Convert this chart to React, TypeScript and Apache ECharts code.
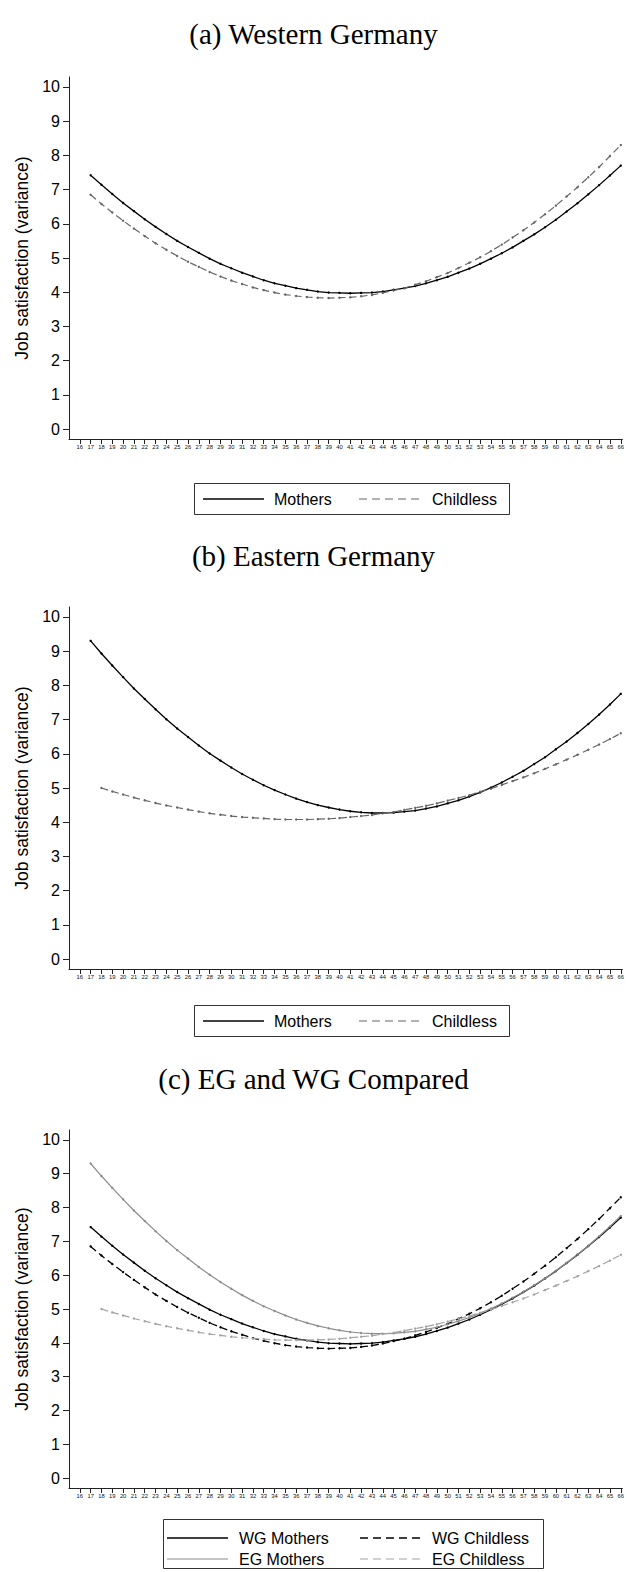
import { useEffect, useRef } from "react";
import * as echarts from "echarts";

// Ages shown on the x axis
const TICK_AGES = [
  16, 17, 18, 19, 20, 21, 22, 23, 24, 25, 26, 27, 28, 29, 30, 31, 32, 33, 34, 35,
  36, 37, 38, 39, 40, 41, 42, 43, 44, 45, 46, 47, 48, 49, 50, 51, 52, 53, 54, 55,
  56, 57, 58, 59, 60, 61, 62, 63, 64, 65, 66,
];
// Ages for which predictions are plotted
const AGES = [
  17, 18, 19, 20, 21, 22, 23, 24, 25, 26, 27, 28, 29, 30, 31, 32, 33, 34, 35, 36,
  37, 38, 39, 40, 41, 42, 43, 44, 45, 46, 47, 48, 49, 50, 51, 52, 53, 54, 55, 56,
  57, 58, 59, 60, 61, 62, 63, 64, 65, 66,
];
const EG_CHILDLESS_AGES = AGES.slice(1);
const Y_TICKS = [0, 1, 2, 3, 4, 5, 6, 7, 8, 9, 10];

// Predicted variance of job satisfaction by age
const WG_MOTHERS = [
  7.42, 7.14, 6.87, 6.61, 6.37, 6.13, 5.91, 5.7, 5.5, 5.32, 5.15, 4.98, 4.83, 4.7,
  4.57, 4.46, 4.35, 4.26, 4.19, 4.12, 4.07, 4.02, 3.99, 3.98, 3.97, 3.98, 3.99,
  4.02, 4.07, 4.12, 4.18, 4.26, 4.35, 4.45, 4.57, 4.69, 4.83, 4.98, 5.14, 5.31,
  5.5, 5.69, 5.9, 6.12, 6.36, 6.6, 6.86, 7.13, 7.41, 7.7,
];
const WG_CHILDLESS = [
  6.85, 6.58, 6.33, 6.09, 5.86, 5.64, 5.43, 5.24, 5.06, 4.89, 4.74, 4.59, 4.46,
  4.34, 4.24, 4.14, 4.06, 3.99, 3.93, 3.89, 3.86, 3.84, 3.83, 3.84, 3.85, 3.88,
  3.92, 3.98, 4.05, 4.12, 4.22, 4.32, 4.44, 4.56, 4.71, 4.86, 5.02, 5.2, 5.39, 5.6,
  5.81, 6.04, 6.28, 6.53, 6.8, 7.07, 7.36, 7.66, 7.98, 8.3,
];
const EG_MOTHERS = [
  9.3, 8.93, 8.58, 8.24, 7.91, 7.6, 7.3, 7.01, 6.74, 6.49, 6.24, 6.01, 5.8, 5.6,
  5.41, 5.24, 5.08, 4.94, 4.81, 4.69, 4.59, 4.5, 4.43, 4.37, 4.32, 4.29, 4.27, 4.27,
  4.28, 4.31, 4.34, 4.4, 4.46, 4.55, 4.64, 4.75, 4.87, 5.01, 5.16, 5.33, 5.5, 5.7,
  5.9, 6.13, 6.36, 6.61, 6.87, 7.15, 7.44, 7.75,
];
const EG_CHILDLESS = [
  5.0, 4.9, 4.81, 4.72, 4.64, 4.56, 4.49, 4.43, 4.37, 4.31, 4.26, 4.22, 4.18, 4.15,
  4.13, 4.11, 4.09, 4.08, 4.08, 4.08, 4.09, 4.1, 4.12, 4.15, 4.18, 4.21, 4.26, 4.3,
  4.36, 4.42, 4.48, 4.55, 4.63, 4.71, 4.79, 4.89, 4.98, 5.09, 5.2, 5.31, 5.43, 5.56,
  5.69, 5.83, 5.97, 6.12, 6.27, 6.43, 6.6,
];

const PANEL_TITLES = ["(a) Western Germany", "(b) Eastern Germany", "(c) EG and WG Compared"];
const Y_NAME = "Job satisfaction (variance)";

const SANS = "'Liberation Sans', Arial, sans-serif";
const SERIF = "'Liberation Serif', 'Times New Roman', serif";

// layout of the three stacked panels
const GRID_LEFT = 69;
const PANEL_LAYOUT = [
  { titleY: 34, gridTop: 77, gridHeight: 362, legendTop: 483 },
  { titleY: 556, gridTop: 607, gridHeight: 362, legendTop: 1005 },
  { titleY: 1079, gridTop: 1130, gridHeight: 358, legendTop: 1519 },
];

const pairs = (ages: number[], vals: number[]) => vals.map((v, i) => [ages[i], v]);

type LineDef = {
  name: string;
  ages: number[];
  values: number[];
  color: string;
  dashed: boolean;
  width: number;
};

const PANEL_LINES: LineDef[][] = [
  [
    { name: "Mothers", ages: AGES, values: WG_MOTHERS, color: "#000000", dashed: false, width: 1.3 },
    { name: "Childless", ages: AGES, values: WG_CHILDLESS, color: "#666666", dashed: true, width: 1.2 },
  ],
  [
    { name: "Mothers", ages: AGES, values: EG_MOTHERS, color: "#000000", dashed: false, width: 1.3 },
    { name: "Childless", ages: EG_CHILDLESS_AGES, values: EG_CHILDLESS, color: "#666666", dashed: true, width: 1.2 },
  ],
  [
    { name: "WG Mothers", ages: AGES, values: WG_MOTHERS, color: "#000000", dashed: false, width: 1.3 },
    { name: "WG Childless", ages: AGES, values: WG_CHILDLESS, color: "#000000", dashed: true, width: 1.3 },
    { name: "EG Mothers", ages: AGES, values: EG_MOTHERS, color: "#8c8c8c", dashed: false, width: 1.2 },
    { name: "EG Childless", ages: EG_CHILDLESS_AGES, values: EG_CHILDLESS, color: "#a3a3a3", dashed: true, width: 1.2 },
  ],
];

function legendGraphics(lines: LineDef[], top: number): any[] {
  const els: any[] = [];
  const twoRows = lines.length > 2;
  const boxLeft = twoRows ? 163 : 194;
  const boxWidth = twoRows ? 380 : 315;
  const rowH = 21;
  const boxH = twoRows ? 49 : 31;
  els.push({
    type: "rect",
    shape: { x: boxLeft + 0.5, y: top + 0.5, width: boxWidth, height: boxH },
    style: { fill: "#ffffff", stroke: "#333333", lineWidth: 1 },
    z: 10,
  });
  lines.forEach((l, i) => {
    const col = i % 2;
    const row = Math.floor(i / 2);
    const cy = twoRows ? top + 19 + row * rowH : top + boxH / 2 + 0.5;
    const lx = twoRows ? (col === 0 ? 167 : 360) : col === 0 ? 203 : 359;
    const tx = twoRows ? (col === 0 ? 239 : 432) : col === 0 ? 274 : 432;
    els.push({
      type: "line",
      shape: { x1: lx, y1: cy, x2: lx + 61, y2: cy },
      style: {
        stroke: l.color,
        lineWidth: l.width,
        lineDash: l.dashed ? [8, 5] : null,
      },
      z: 11,
    });
    els.push({
      type: "text",
      x: tx,
      y: cy,
      style: {
        text: l.name,
        font: `16px ${SANS}`,
        fill: "#000000",
        verticalAlign: "middle",
        align: "left",
      },
      z: 11,
    });
  });
  return els;
}

export default function App() {
  const ref = useRef<HTMLDivElement>(null);

  useEffect(() => {
    if (!ref.current) return;
    const chart = echarts.init(ref.current, undefined, { renderer: "svg" });

    const grids: any[] = [];
    const xAxes: any[] = [];
    const yAxes: any[] = [];
    const series: any[] = [];
    const graphics: any[] = [];

    PANEL_LAYOUT.forEach((p, idx) => {
      grids.push({
        left: GRID_LEFT,
        right: 0.5,
        top: p.gridTop,
        height: p.gridHeight,
        containLabel: false,
      });
      xAxes.push({
        type: "value",
        gridIndex: idx,
        min: 15,
        max: 66.15,
        axisLine: { show: true, onZero: false, lineStyle: { color: "#222", width: 1 } },
        axisTick: {
          show: true,
          length: 5,
          customValues: TICK_AGES,
          lineStyle: { color: "#222", width: 1 },
        },
        axisLabel: {
          show: true,
          customValues: TICK_AGES,
          fontSize: 5.8,
          fontFamily: SANS,
          color: "#111",
          margin: 5,
          hideOverlap: false,
        },
        splitLine: { show: false },
      });
      yAxes.push({
        type: "value",
        gridIndex: idx,
        min: -0.29,
        max: 10.29,
        name: Y_NAME,
        nameLocation: "middle",
        nameGap: 38,
        nameRotate: 90,
        nameTextStyle: { fontSize: 17.5, fontFamily: SANS, color: "#000" },
        axisLine: { show: true, onZero: false, lineStyle: { color: "#222", width: 1 } },
        axisTick: {
          show: true,
          length: 6,
          customValues: Y_TICKS,
          lineStyle: { color: "#222", width: 1 },
        },
        axisLabel: {
          show: true,
          customValues: Y_TICKS,
          fontSize: 16,
          fontFamily: SANS,
          color: "#000",
          margin: 9,
        },
        splitLine: { show: false },
      });

      PANEL_LINES[idx].forEach((l) => {
        series.push({
          type: "line",
          name: l.name,
          xAxisIndex: idx,
          yAxisIndex: idx,
          data: pairs(l.ages, l.values),
          showSymbol: true,
          symbol: "circle",
          symbolSize: 2.4,
          itemStyle: { color: l.color },
          lineStyle: {
            color: l.color,
            width: l.width,
            type: l.dashed ? [7, 4] : "solid",
          },
          emphasis: { disabled: true },
          silent: true,
        });
      });

      graphics.push({
        type: "text",
        x: 313.5,
        y: p.titleY,
        style: {
          text: PANEL_TITLES[idx],
          font: `29px ${SERIF}`,
          fill: "#000",
          align: "center",
          verticalAlign: "middle",
        },
      });
      graphics.push(...legendGraphics(PANEL_LINES[idx], p.legendTop));
    });

    chart.setOption({
      animation: false,
      backgroundColor: "#ffffff",
      grid: grids,
      xAxis: xAxes,
      yAxis: yAxes,
      series,
      graphic: graphics,
    });

    return () => chart.dispose();
  }, []);

  return (
    <div
      ref={ref}
      style={{ position: "absolute", left: 0, top: 0, width: 627, height: 1572 }}
    />
  );
}
